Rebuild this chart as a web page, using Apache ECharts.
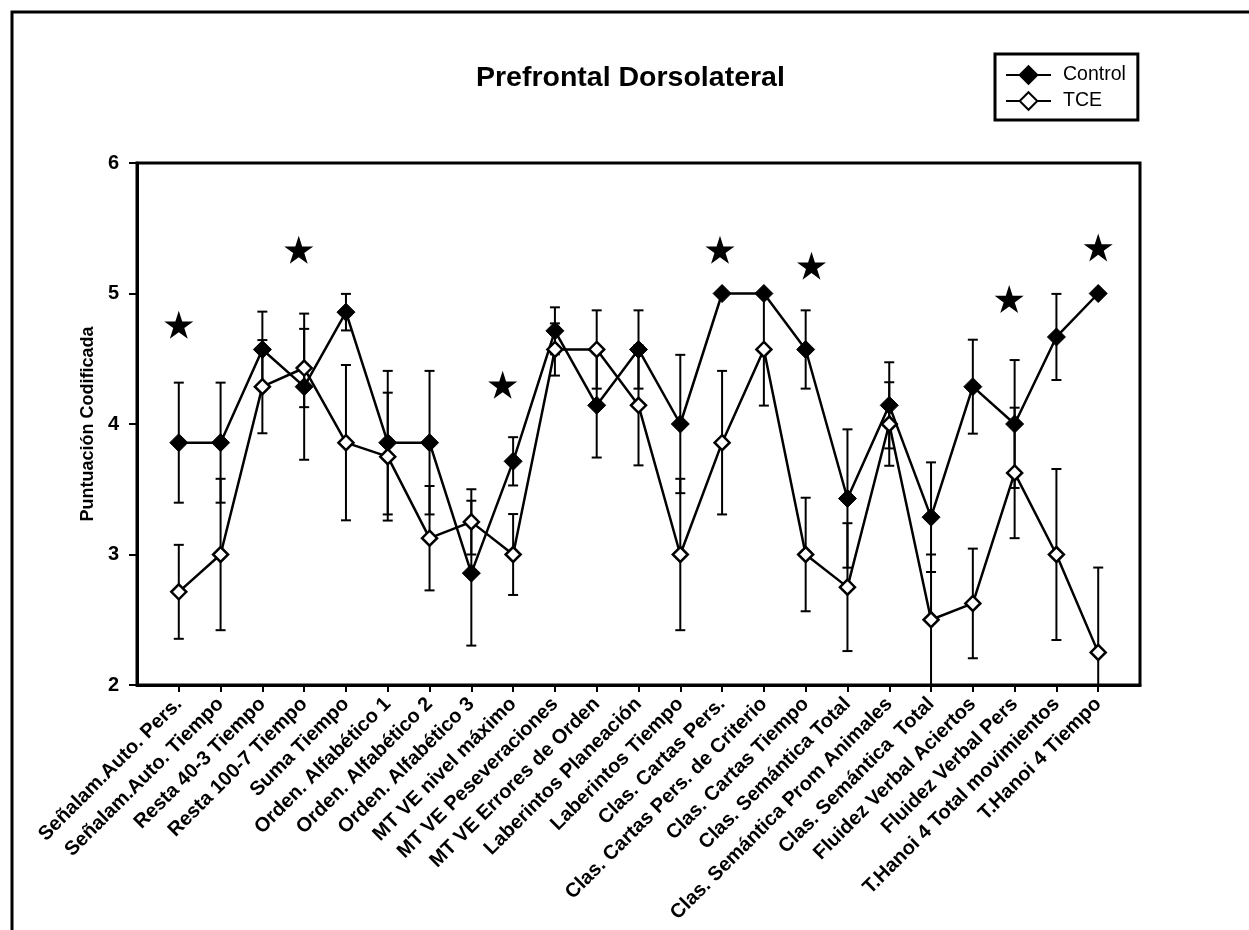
<!DOCTYPE html>
<html><head><meta charset="utf-8">
<script src="https://cdn.jsdelivr.net/npm/echarts@6/dist/echarts.min.js"></script>
<style>html,body{margin:0;padding:0;background:#fff}#c{width:1249px;height:930px}</style>
</head><body><div id="c"></div>
<script>
const categories = [
  'Señalam.Auto. Pers.', 'Señalam.Auto. Tiempo', 'Resta 40-3 Tiempo', 'Resta 100-7 Tiempo',
  'Suma Tiempo', 'Orden. Alfabético 1', 'Orden. Alfabético 2', 'Orden. Alfabético 3',
  'MT VE nivel máximo', 'MT VE Peseveraciones', 'MT VE Errores de Orden', 'Laberintos Planeación',
  'Laberintos Tiempo', 'Clas. Cartas Pers.', 'Clas. Cartas Pers. de Criterio', 'Clas. Cartas Tiempo',
  'Clas. Semántica Total', 'Clas. Semántica Prom Animales', 'Clas. Semántica  Total',
  'Fluidez Verbal Aciertos', 'Fluidez Verbal Pers', 'T.Hanoi 4 Total movimientos', 'T.Hanoi 4 Tiempo'
];
const control    = [3.857, 3.857, 4.571, 4.286, 4.857, 3.857, 3.857, 2.857, 3.714, 4.714, 4.143, 4.571, 4.0, 5.0, 5.0, 4.571, 3.429, 4.143, 3.286, 4.286, 4.0, 4.667, 5.0];
const controlErr = [0.46, 0.46, 0.29, 0.56, 0.14, 0.55, 0.55, 0.555, 0.185, 0.18, 0.40, 0.30, 0.53, 0, 0, 0.30, 0.53, 0.33, 0.42, 0.36, 0.49, 0.33, 0];
const tce        = [2.714, 3.0, 4.286, 4.429, 3.857, 3.75, 3.125, 3.25, 3.0, 4.571, 4.571, 4.143, 3.0, 3.857, 4.571, 3.0, 2.75, 4.0, 2.5, 2.625, 3.625, 3.0, 2.25];
const tceErr     = [0.36, 0.58, 0.357, 0.30, 0.595, 0.49, 0.40, 0.25, 0.31, 0.20, 0.30, 0.46, 0.58, 0.55, 0.43, 0.435, 0.49, 0.32, 0.5, 0.42, 0.50, 0.655, 0.65];
const starX = [1, 3.87, 8.75, 13.95, 16.14, 20.87, 23];
const starY = [4.76, 5.335, 4.30, 5.335, 5.213, 4.957, 5.353];
const yTicks = [2, 3, 4, 5, 6];

const FONT = '"Liberation Sans", Arial, sans-serif';
const xs = categories.map((_, i) => i + 1);
const STAR = 'path://M50 0 L61.23 34.55 L97.55 34.55 L68.17 55.9 L79.39 90.45 L50 69.1 L20.61 90.45 L31.83 55.9 L2.45 34.55 L38.77 34.55 Z';

function errData(vals, errs) { return vals.map((v, i) => [i + 1, v - errs[i], v + errs[i]]); }
function renderErr(params, api) {
  const x = api.value(0), lo = api.value(1), hi = api.value(2);
  if (hi - lo <= 0) return null;
  const a = api.coord([x, lo]), b = api.coord([x, hi]);
  const w = 5, st = { stroke: '#000', lineWidth: 2 };
  return { type: 'group', children: [
    { type: 'line', shape: { x1: a[0], y1: a[1], x2: b[0], y2: b[1] }, style: st },
    { type: 'line', shape: { x1: a[0] - w, y1: a[1], x2: a[0] + w, y2: a[1] }, style: st },
    { type: 'line', shape: { x1: b[0] - w, y1: b[1], x2: b[0] + w, y2: b[1] }, style: st }
  ]};
}

const chart = echarts.init(document.getElementById('c'), null, { renderer: 'canvas' });
chart.setOption({
  animation: false,
  backgroundColor: '#fff',
  title: { text: 'Prefrontal Dorsolateral', left: 471, top: 59,
    textStyle: { fontSize: 28.5, fontWeight: 'bold', fontFamily: FONT, color: '#000' } },
  legend: { data: ['Control', 'TCE'], orient: 'vertical', left: 995, top: 54,
    itemWidth: 45, itemHeight: 22, itemGap: 4, padding: [10, 12, 8, 10],
    borderColor: '#000', borderWidth: 3,
    textStyle: { fontSize: 19.5, fontFamily: FONT, color: '#000', lineHeight: 22, padding: [0, 0, 0, 7] } },
  grid: { left: 137, right: 109, top: 163, bottom: 245, show: true, borderColor: '#000', borderWidth: 3 },
  xAxis: { type: 'value', min: 0, max: 24, interval: 1,
    axisLine: { show: true, onZero: false, lineStyle: { color: '#000', width: 3 } },
    axisTick: { show: true, customValues: xs, length: 7, lineStyle: { color: '#000', width: 2 } },
    axisLabel: { customValues: xs, rotate: 45, margin: 16, fontSize: 20, fontWeight: 'bold', color: '#000', fontFamily: FONT,
      formatter: v => categories[Math.round(v) - 1] || '' },
    splitLine: { show: false } },
  yAxis: { type: 'value', min: 2, max: 6, interval: 1,
    name: 'Puntuación Codificada', nameLocation: 'middle', nameGap: 39,
    nameTextStyle: { fontSize: 18, fontWeight: 'bold', fontFamily: FONT, color: '#000' },
    axisLine: { show: true, lineStyle: { color: '#000', width: 3 } },
    axisTick: { show: true, length: 8, lineStyle: { color: '#000', width: 2 } },
    axisLabel: { customValues: yTicks, fontSize: 20, fontWeight: 'bold', margin: 18, color: '#000', fontFamily: FONT },
    splitLine: { show: false } },
  graphic: [{ type: 'polyline', silent: true, z: 100,
    shape: { points: [[12, 945], [12, 12], [1265, 12]] }, style: { stroke: '#000', lineWidth: 3, fill: null } }],
  series: [
    { type: 'custom', name: 'errC', renderItem: renderErr, data: errData(control, controlErr), clip: true, z: 1,
      encode: { x: 0, y: [1, 2] } },
    { type: 'custom', name: 'errT', renderItem: renderErr, data: errData(tce, tceErr), clip: true, z: 1,
      encode: { x: 0, y: [1, 2] } },
    { type: 'line', name: 'Control', data: xs.map((x, i) => [x, control[i]]), z: 3,
      symbol: 'diamond', symbolSize: 18, lineStyle: { color: '#000', width: 2.5 },
      itemStyle: { color: '#000', borderColor: '#000', borderWidth: 1 } },
    { type: 'line', name: 'TCE', data: xs.map((x, i) => [x, tce[i]]), z: 4,
      symbol: 'diamond', symbolSize: 15, lineStyle: { color: '#000', width: 2.5 },
      itemStyle: { color: '#fff', borderColor: '#000', borderWidth: 2.5 } },
    { type: 'scatter', name: 'stars', data: starX.map((x, i) => [x, starY[i]]), z: 5,
      symbol: STAR, symbolSize: [29, 28], itemStyle: { color: '#000', opacity: 1 } }
  ]
});
</script></body></html>
